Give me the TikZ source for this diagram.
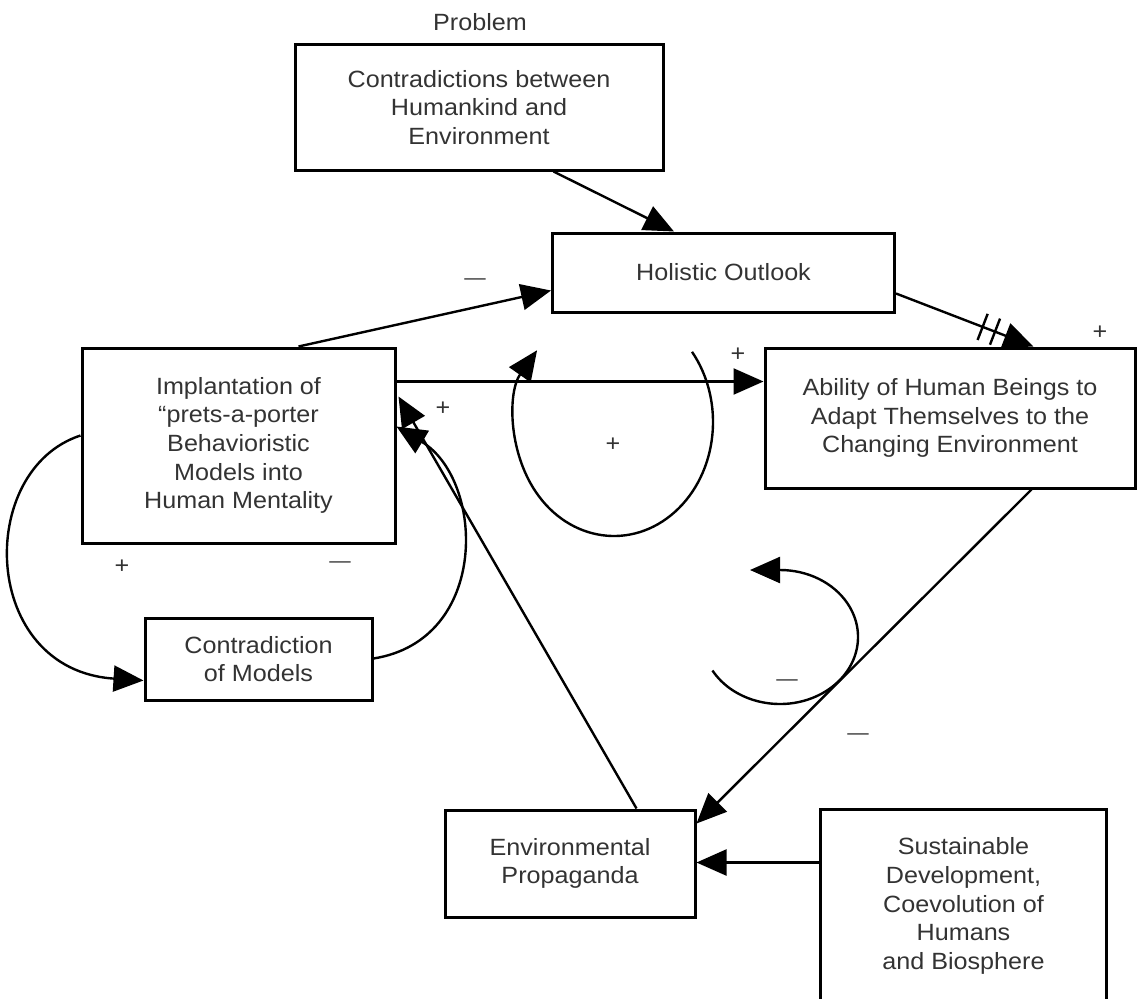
\documentclass[tikz,border=0pt]{standalone}
\usepackage{fontspec}
\setmainfont{Liberation Sans}[FakeStretch=1.07]
\usetikzlibrary{arrows.meta,calc}
\definecolor{txt}{HTML}{333333}
\begin{document}
\begin{tikzpicture}[x=1pt,y=-1pt,
  box/.style={draw=black,line width=3pt,align=center,inner sep=0pt,text=txt,font=\fontsize{23.5}{28.7}\selectfont},
  conn/.style={line width=2.4pt,-{Triangle[length=30pt,width=26pt]}},
  plain/.style={line width=2.4pt},
  lbl/.style={text=txt,font=\fontsize{23.5}{28}\selectfont,inner sep=0pt},
  mlbl/.style={text=txt,font=\fontsize{20}{24}\selectfont,inner sep=0pt},
]
\useasboundingbox (0,0) rectangle (1137,998);

% boxes
\node[lbl] (problbl) at (480,22) {Problem};
\node[box,minimum width=368pt,minimum height=125pt] (prob) at (479,107.5) {Contradictions between\\Humankind and\\Environment};
\node[box,minimum width=342pt,minimum height=79pt] (hol) at (723.5,272.5) {Holistic Outlook};
\node[box,minimum width=370pt,minimum height=140pt] (abil) at (950,418) {Ability of Human Beings to\\Adapt Themselves to the\\Changing Environment};
\node[box,minimum width=313pt,minimum height=195pt] (impl) at (238.5,445.5) {Implantation of\\“prets-a-porter\\Behavioristic\\Models into\\Human Mentality};
\node[box,minimum width=227pt,minimum height=82pt] (contr) at (258.5,659) {Contradiction\\of Models};
\node[box,minimum width=250pt,minimum height=107pt] (env) at (570,863.5) {Environmental\\Propaganda};
\node[box,draw=none,minimum width=283pt,minimum height=190pt] (sust) at (963.5,906) {Sustainable\\Development,\\Coevolution of\\Humans\\and Biosphere};
\draw[line width=3pt] (sust.south west) -- (sust.north west) -- (sust.north east) -- (sust.south east);

% connectors
\draw[conn] ($(prob.south west)+(260,0)$) -- ($(hol.north west)+(123,0)$);
\draw[conn] ($(impl.north west)+(218,0)$) -- ($(hol.north west)+(0,59)$);
\draw[conn] ($(impl.north east)+(0,35)$) -- ($(abil.north west)+(0,35)$);
\coordinate (hA) at ($(hol.north east)+(0,62)$);
\coordinate (hB) at ($(abil.north west)+(270,0)$);
\draw[conn] (hA) -- (hB) coordinate[pos=0.63] (m1) coordinate[pos=0.72] (m2);
\draw[plain] ($(m1)!14pt!90:(hB)$) -- ($(m1)!14pt!-90:(hB)$);
\draw[plain] ($(m2)!14pt!90:(hB)$) -- ($(m2)!14pt!-90:(hB)$);
\draw[conn] ($(abil.south west)+(268,0)$) -- ($(env.north east)+(0,15)$);
\draw[conn] ($(sust.north west)+(0,53)$) -- ($(env.north east)+(0,54)$);
\draw[conn] ($(env.north west)+(193,0)$) -- ($(impl.north east)+(2,50)$);
\draw[conn] ($(impl.north west)+(0,89)$) .. controls (-25,470) and (-20,670) .. ($(contr.north west)+(0,64)$);
\draw[conn] ($(contr.north east)+(0,42)$) .. controls (490,640) and (485,480) .. ($(impl.north east)+(0,80)$);

% loop symbols
\draw[conn] (614,422) ++(-38:99 and 114) arc[start angle=-38,end angle=219,x radius=99,y radius=114];
\draw[conn] (780,637) ++(150:78 and 67) arc[start angle=150,end angle=-90,x radius=78,y radius=67] -- ++(-30,0);

% signs
\node[mlbl] (s1) at (475,282) {—};
\node[lbl] (s2) at (738,355) {+};
\node[lbl] (s3) at (1100,333) {+};
\node[lbl] (s4) at (443,409) {+};
\node[lbl] (s5) at (613,445) {+};
\node[lbl] (s6) at (122,567) {+};
\node[mlbl] (s7) at (340,565) {—};
\node[mlbl] (s8) at (787,683) {—};
\node[mlbl] (s9) at (858,737) {—};
\end{tikzpicture}
\end{document}
